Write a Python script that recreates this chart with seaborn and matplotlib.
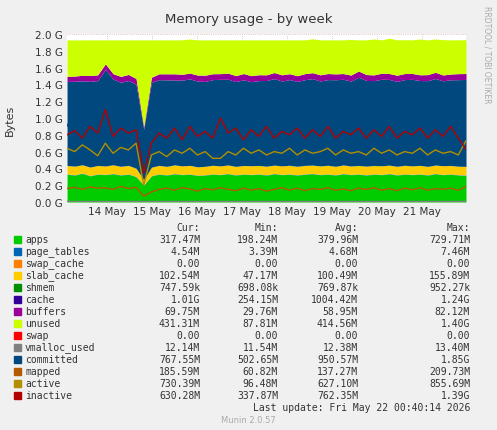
import matplotlib
matplotlib.use("Agg")
import matplotlib.pyplot as plt
import seaborn as sns
import numpy as np

sns.set_style("white")
plt.rcParams['font.family'] = ['DejaVu Sans']

# time in days from 13 May 02:00 (4-hour steps)
apps = [330,320,340,310,330,325,335,320,330,300,200,310,330,320,335,325,330,315,320,330,325,335,320,330,325,330,320,335,325,330,320,330,335,325,330,320,335,325,330,320,330,325,335,320,330,325,330,320,335,325,330,320,317]
slab = [100,102,98,101,100,99,103,100,101,97,60,100,101,99,102,100,101,99,100,102,100,101,99,100,102,100,101,99,100,102,100,101,99,100,102,100,101,99,100,102,100,101,99,100,102,100,101,99,100,102,100,101,102]
cache = [1000,1010,1000,1020,1010,1150,1020,1000,1010,1000,600,1010,1020,1030,1010,1020,1030,1020,1010,1020,1030,1020,1010,1020,1000,1010,1020,1030,1010,1020,1010,1020,1030,1010,1020,1030,1020,1010,1050,1020,1010,1030,1020,1010,1020,1030,1010,1020,1030,1010,1020,1030,1035]
buffers = [60,62,65,70,68,66,64,70,72,68,30,60,70,72,74,70,68,72,74,70,68,72,70,74,72,70,68,72,74,70,68,72,70,74,72,70,68,72,74,70,68,72,70,74,72,70,68,72,74,70,68,72,70]
unused = [435,430,422,424,417,285,403,435,412,460,1035,445,404,404,404,410,406,419,421,403,402,397,426,401,426,415,416,389,416,403,427,402,403,416,401,405,401,424,371,413,427,397,421,421,403,400,426,413,396,420,407,403,403]
committed = [900,1100,850,1200,950,1000,800,1250,900,1050,500,950,1150,850,1250,900,1050,800,1200,950,1100,850,1250,900,1000,800,1200,950,1100,850,1250,900,1050,800,1200,950,1150,850,1250,900,1000,800,1200,950,1100,850,1250,900,1050,800,1200,950,770]
mapped = [160,175,150,180,165,170,150,185,160,175,70,120,150,165,140,170,155,130,160,145,170,150,135,165,140,160,130,150,170,140,165,135,160,150,170,140,155,135,165,150,170,140,160,135,165,145,170,140,160,150,165,140,186]
active = [640,600,680,620,550,700,580,650,620,700,200,560,600,540,620,580,640,560,600,520,520,600,560,640,580,620,560,600,580,640,560,620,580,600,640,560,620,580,600,560,640,580,620,560,600,580,640,560,620,580,600,560,730]
inactive = [800,850,760,900,820,1100,780,880,820,860,340,700,820,760,880,740,900,780,840,760,1000,820,880,740,860,780,900,760,840,800,880,760,860,780,900,760,840,800,880,760,860,780,900,760,840,800,880,760,860,780,900,760,630]
day_ticks = ["14 May","15 May","16 May","17 May","18 May","19 May","20 May","21 May"]

n = len(apps)
x = np.arange(n) * 4 / 24.0
M = 1e6 / 1e9  # to G
bg = "#f0f0f0"

fig = plt.figure(figsize=(4.97, 4.31), dpi=100, facecolor=bg)
ax = fig.add_axes([67/497, 1-203/431, 399/497, 168/431])
ax.set_facecolor("white")

zeros = [0]*n
pt = [4.5]*n; sh = [0.75]*n
stack_vals = [apps, pt, zeros, slab, sh, cache, buffers, unused, zeros]
stack_cols = ["#00CC00","#0066B3","#FF8000","#FFCC00","#008F00","#00487D","#990099","#CCFF00","#FF0000"]
ax.stackplot(x, *[np.array(v)*M for v in stack_vals], colors=stack_cols, linewidth=0)
vm = [12]*n
for vals, c in [(vm,"#808080"),(committed,"#00487D"),(mapped,"#B35A00"),(active,"#B38F00"),(inactive,"#B30000")]:
    sns.lineplot(x=x, y=np.array(vals)*M, color=c, lw=1, ax=ax)

ax.set_xlim(0, x[-1])
ax.set_ylim(0, 2.0)
ax.set_yticks(np.arange(0, 2.01, 0.2))
ax.set_yticklabels([f"{v:.1f} G" for v in np.arange(0, 2.01, 0.2)], fontsize=7.5, color="#333")
scale = x[-1] / 399
xt = [(107 - 67 + 45*i) * scale for i in range(8)]
ax.set_xticks(xt)
ax.set_xticklabels(day_ticks, fontsize=7.5, color="#333")
ax.grid(True, color="#e0b0b0", ls=":", lw=0.6)
for s in ax.spines.values():
    s.set_visible(False)
ax.tick_params(length=0, pad=3)

fig.text(0.5, 1-20/431, "Memory usage - by week", ha="center", va="center", fontsize=9.5, color="#333")
fig.text(10/497, 1-120/431, "Bytes", rotation=90, ha="center", va="center", fontsize=8, color="#333")
fig.text(487/497, 1-55/431, "RRDTOOL / TOBI OETIKER", rotation=270, ha="center", va="center", fontsize=5.5, color="#aaa")

mono = dict(family="DejaVu Sans Mono", fontsize=7, color="#333", va="center")
cols_x = [200/497, 278/497, 358/497, 470/497]
for cx, h in zip(cols_x, ["Cur:", "Min:", "Avg:", "Max:"]):
    fig.text(cx, 1-228/431, h, ha="right", **mono)
rows = [
 ("apps","#00CC00",["317.47M","198.24M","379.96M","729.71M"]),
 ("page_tables","#0066B3",["4.54M","3.39M","4.68M","7.46M"]),
 ("swap_cache","#FF8000",["0.00","0.00","0.00","0.00"]),
 ("slab_cache","#FFCC00",["102.54M","47.17M","100.49M","155.89M"]),
 ("shmem","#008F00",["747.59k","698.08k","769.87k","952.27k"]),
 ("cache","#330099",["1.01G","254.15M","1004.42M","1.24G"]),
 ("buffers","#990099",["69.75M","29.76M","58.95M","82.12M"]),
 ("unused","#CCFF00",["431.31M","87.81M","414.56M","1.40G"]),
 ("swap","#FF0000",["0.00","0.00","0.00","0.00"]),
 ("vmalloc_used","#808080",["12.14M","11.54M","12.38M","13.40M"]),
 ("committed","#00487D",["767.55M","502.65M","950.57M","1.85G"]),
 ("mapped","#B35A00",["185.59M","60.82M","137.27M","209.73M"]),
 ("active","#B38F00",["730.39M","96.48M","627.10M","855.69M"]),
 ("inactive","#B30000",["630.28M","337.87M","762.35M","1.39G"]),
]
for i, (name, col, vals) in enumerate(rows):
    yp = 1 - (240 + 12*i)/431
    fig.patches.append(plt.Rectangle((14/497, yp-3.5/431), 7/497, 7/431, transform=fig.transFigure, color=col))
    fig.text(25/497, yp, name, ha="left", **mono)
    for cx, v in zip(cols_x, vals):
        fig.text(cx, yp, v, ha="right", **mono)
fig.text(470/497, 1-408/431, "Last update: Fri May 22 00:40:14 2026", ha="right", **mono)
fig.text(0.5, 1-421/431, "Munin 2.0.57", ha="center", va="center", fontsize=6, color="#aaa")

fig.savefig("out.png", dpi=100, facecolor=bg)
